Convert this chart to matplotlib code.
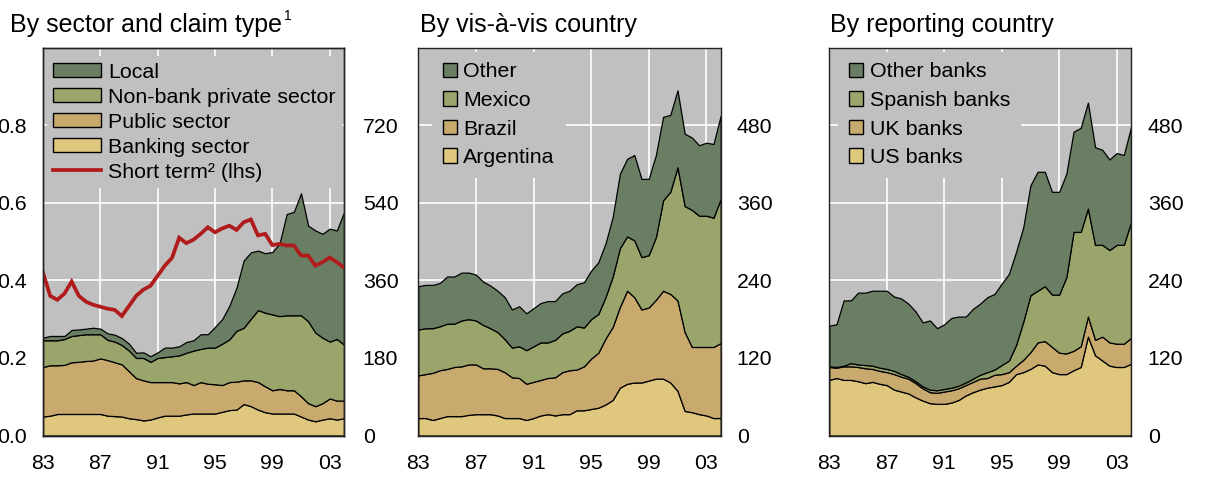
import numpy as np
import matplotlib
matplotlib.use("Agg")
import matplotlib.pyplot as plt
from matplotlib.patches import Patch
from matplotlib.lines import Line2D

plt.rcParams['font.family'] = ['Liberation Sans', 'DejaVu Sans']

# ---------------- data (half-yearly, 1983 to 2004) ----------------
periods = np.arange(1983.0, 2004.01, 0.5)
year_ticks = [1983, 1987, 1991, 1995, 1999, 2003]
year_labels = ['83', '87', '91', '95', '99', '03']

# Panel 1: by sector and claim type
banking = [44, 46, 50, 50, 50, 50, 50, 50, 50, 46, 45, 44, 40, 38, 35, 37, 42, 46, 46, 46, 49,
           51, 51, 51, 51, 55, 59, 60, 73, 68, 60, 54, 51, 51, 51, 51, 44, 37, 33, 37, 40, 37, 40]
public = [115, 117, 113, 114, 120, 121, 123, 124, 129, 129, 125, 121, 109, 95, 93, 87, 82, 78, 78, 75, 75,
          66, 73, 69, 68, 62, 65, 65, 55, 60, 64, 60, 54, 57, 54, 54, 47, 38, 35, 38, 46, 44, 41]
nonbank = [62, 58, 58, 60, 61, 62, 62, 61, 56, 47, 48, 45, 48, 47, 52, 47, 56, 58, 60, 65, 68,
           80, 77, 84, 85, 96, 99, 118, 122, 143, 167, 171, 176, 169, 174, 174, 188, 190, 171, 152, 132, 143, 130]
local = [6, 10, 10, 7, 14, 13, 13, 15, 13, 15, 16, 16, 16, 12, 13, 13, 13, 22, 20, 21, 25,
         24, 34, 31, 48, 57, 78, 100, 156, 154, 138, 138, 145, 168, 235, 240, 283, 222, 237, 241, 262, 252, 307]
short_term = [0.42, 0.36, 0.35, 0.366, 0.397, 0.36, 0.345, 0.337, 0.332, 0.327, 0.324, 0.308, 0.334, 0.36,
              0.376, 0.386, 0.412, 0.438, 0.458, 0.51, 0.496, 0.505, 0.52, 0.537, 0.524, 0.534, 0.541, 0.53,
              0.55, 0.557, 0.516, 0.52, 0.491, 0.494, 0.49, 0.49, 0.464, 0.464, 0.438, 0.447, 0.459, 0.447, 0.433]

# Panel 2: by vis-a-vis country
argentina = [27, 27, 24, 27, 30, 30, 30, 32, 33, 33, 33, 31, 27, 27, 27, 24, 27, 31, 33, 31, 33,
             33, 39, 39, 41, 43, 48, 55, 74, 80, 82, 82, 85, 88, 88, 82, 69, 38, 36, 33, 31, 27, 27]
brazil = [66, 68, 73, 74, 73, 76, 77, 78, 77, 71, 71, 72, 71, 63, 62, 56, 56, 55, 56, 59, 65,
          68, 63, 68, 78, 85, 102, 113, 125, 144, 132, 113, 113, 122, 136, 137, 140, 122, 101, 104, 106, 110, 116]
mexico = [71, 71, 69, 68, 70, 67, 71, 70, 68, 67, 62, 57, 51, 46, 49, 52, 55, 58, 55, 58, 60,
          61, 67, 60, 61, 60, 64, 78, 91, 84, 88, 81, 81, 97, 140, 158, 206, 195, 212, 203, 203, 200, 223]
other = [67, 67, 67, 67, 73, 73, 74, 72, 71, 67, 66, 64, 65, 59, 62, 57, 59, 61, 64, 60, 62,
         62, 65, 70, 75, 80, 83, 92, 115, 120, 132, 121, 118, 127, 129, 119, 119, 112, 112, 109, 113, 114, 129]

# Panel 3: by reporting country
us_banks = [86, 89, 86, 86, 84, 81, 83, 80, 78, 71, 68, 65, 59, 54, 50, 49, 49, 51, 55, 62, 67,
            71, 74, 76, 78, 83, 95, 98, 103, 110, 108, 98, 95, 95, 101, 106, 153, 124, 116, 108, 106, 106, 111]
uk_banks = [20, 16, 21, 21, 22, 23, 20, 20, 20, 24, 23, 23, 22, 19, 17, 17, 19, 19, 18, 16, 16,
            17, 15, 18, 17, 15, 13, 19, 26, 34, 38, 39, 33, 32, 30, 32, 31, 24, 37, 36, 36, 36, 40]
spanish_banks = [1, 1, 1, 5, 4, 5, 5, 5, 5, 5, 4, 3, 3, 3, 4, 4, 4, 4, 4, 4, 5,
                 6, 9, 8, 14, 18, 32, 59, 88, 80, 85, 81, 90, 118, 184, 177, 167, 147, 142, 143, 153, 153, 179]
other_banks = [63, 66, 101, 97, 111, 112, 116, 119, 121, 115, 117, 113, 108, 99, 107, 96, 100, 108, 107, 102, 108,
               110, 116, 117, 126, 134, 144, 146, 170, 184, 177, 159, 159, 160, 155, 161, 164, 151, 147, 140, 142, 139, 147]

# ---------------- styling ----------------
C_DARK = '#6a7e64'
C_OLIVE = '#9aa56c'
C_TAN = '#c8a96e'
C_YELLOW = '#dfc87e'
C_BG = '#c0c0c0'
C_RED = '#b01c1c'
stack_colors = [C_YELLOW, C_TAN, C_OLIVE, C_DARK]
FS = 15.4
TICK_FS = 15.3

W, H = 1214, 479
fig = plt.figure(figsize=(W / 100, H / 100), dpi=100)

ax_bottom = (H - 435.5) / H
ax_height = (435.5 - 47.7) / H


def style_spines(ax):
    for sp in ax.spines.values():
        sp.set_visible(True)
        sp.set_color('#222222')
        sp.set_linewidth(1.0)
        sp.set_zorder(6)


def make_axes(left_px, right_px):
    ax = fig.add_axes([left_px / W, ax_bottom, (right_px - left_px) / W, ax_height])
    ax.set_facecolor(C_BG)
    ax.set_xlim(1983, 2004)
    ax.set_xticks(year_ticks)
    ax.set_xticklabels(year_labels)
    ax.grid(True, color='white', linewidth=1.2)
    ax.set_axisbelow(True)
    ax.tick_params(axis='x', length=0, pad=13.5, labelsize=TICK_FS)
    style_spines(ax)
    return ax


def stack(ax, series):
    ax.stackplot(periods, *series, colors=stack_colors, edgecolor='black', linewidth=0.9)


def legend_handles(labels, colors):
    return [Patch(facecolor=c, edgecolor='black', linewidth=1.0, label=l) for l, c in zip(labels, colors)]


# ---- Panel 1 ----
ax1 = make_axes(43, 344)
stack(ax1, [banking, public, nonbank, local])
ax1.set_ylim(0, 900)
ax1.set_yticks([0, 180, 360, 540, 720])
ax1l = ax1.twinx()
ax1.yaxis.tick_right()
ax1.tick_params(axis='y', length=0, pad=13.5, labelsize=TICK_FS)
ax1l.yaxis.tick_left()
ax1l.set_ylim(0, 1.0)
ax1l.set_yticks([0.0, 0.2, 0.4, 0.6, 0.8])
ax1l.set_yticklabels(['0.0', '0.2', '0.4', '0.6', '0.8'])
ax1l.tick_params(axis='y', length=0, pad=12, labelsize=TICK_FS)
style_spines(ax1l)
ax1l.plot(periods, short_term, color=C_RED, linewidth=2.7, solid_joinstyle='miter')

h1 = legend_handles(['Local', 'Non-bank private sector', 'Public sector', 'Banking sector'],
                    [C_DARK, C_OLIVE, C_TAN, C_YELLOW])
h1.append(Line2D([], [], color=C_RED, linewidth=2.7, label='Short term² (lhs)'))
ax1l.legend(handles=h1, loc='upper left', bbox_to_anchor=(0.01, 0.988), borderaxespad=0,
            borderpad=0.3, frameon=True, facecolor=C_BG, edgecolor='none', framealpha=1,
            fancybox=False, handlelength=2.25, handleheight=0.66, handletextpad=0.33,
            labelspacing=0.28, fontsize=FS).set_bbox_to_anchor((0.012, 0.978), transform=ax1l.transAxes)

# ---- Panel 2 ----
ax2 = make_axes(418.3, 720.7)
stack(ax2, [argentina, brazil, mexico, other])
ax2.set_ylim(0, 600)
ax2.set_yticks([0, 120, 240, 360, 480])
ax2.yaxis.tick_right()
ax2.tick_params(axis='y', length=0, pad=11.5, labelsize=TICK_FS)
h2 = legend_handles(['Other', 'Mexico', 'Brazil', 'Argentina'], [C_DARK, C_OLIVE, C_TAN, C_YELLOW])
ax2.legend(handles=h2, loc='upper left', bbox_to_anchor=(0.046, 0.99), borderaxespad=0,
           borderpad=0.5, frameon=True, facecolor=C_BG, edgecolor='none', framealpha=1,
           fancybox=False, handlelength=0.66, handleheight=0.66, handletextpad=0.3,
           labelspacing=0.45, fontsize=FS)

# ---- Panel 3 ----
ax3 = make_axes(829.3, 1131)
stack(ax3, [us_banks, uk_banks, spanish_banks, other_banks])
ax3.set_ylim(0, 600)
ax3.set_yticks([0, 120, 240, 360, 480])
ax3.yaxis.tick_right()
ax3.tick_params(axis='y', length=0, pad=12, labelsize=TICK_FS)
h3 = legend_handles(['Other banks', 'Spanish banks', 'UK banks', 'US banks'], [C_DARK, C_OLIVE, C_TAN, C_YELLOW])
ax3.legend(handles=h3, loc='upper left', bbox_to_anchor=(0.030, 0.99), borderaxespad=0,
           borderpad=0.5, frameon=True, facecolor=C_BG, edgecolor='none', framealpha=1,
           fancybox=False, handlelength=0.66, handleheight=0.66, handletextpad=0.3,
           labelspacing=0.45, fontsize=FS)

# ---- Titles ----
TFS = 18
base_y = 1 - 32 / H
t1 = fig.text(10 / W, base_y, 'By sector and claim type', fontsize=TFS, va='baseline', ha='left')
fig.text(420.5 / W, base_y, 'By vis-à-vis country', fontsize=TFS, va='baseline', ha='left')
fig.text(830.5 / W, base_y, 'By reporting country', fontsize=TFS, va='baseline', ha='left')
fig.canvas.draw()
bb = t1.get_window_extent(fig.canvas.get_renderer())
fig.text((bb.x1 + 2) / W, 1 - 20 / H, '1', fontsize=10, va='baseline', ha='left')

fig.savefig('out.png', dpi=100)
